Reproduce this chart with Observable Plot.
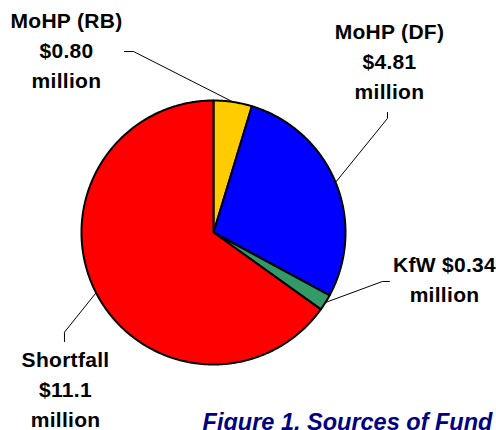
<!DOCTYPE html>
<html><head><meta charset="utf-8">
<script src="https://cdn.jsdelivr.net/npm/d3@7"></script>
<script src="https://cdn.jsdelivr.net/npm/@observablehq/plot@0.6"></script>
<style>body{margin:0;background:#fff} #chart text{letter-spacing:0.3px}</style>
</head><body><div id="chart"></div>
<script>
// Data
const categories = ["MoHP (RB)", "MoHP (DF)", "KfW", "Shortfall"];
const values = [0.80, 4.81, 0.34, 11.1];
const valueLabels = ["$0.80", "$4.81", "$0.34", "$11.1"];
const unitLabel = "million";
const captionText = "Figure 1. Sources of Fund";

// Styles / layout (in pie-radius units, origin at pie centre)
const colors = ["#FFCC00", "#0000FF", "#339966", "#FF0000"];
const labelBreak = [true, true, false, true];
const labelX = [-1.114, 1.333, 1.75, -1.121];
const labelY = [1.091, 1.015, -0.523, -1.477];
const elbowX = [-0.606, 1.318, 1.280, -1.129];
const elbowY = [1.371, 0.864, -0.371, -0.755];
const endX = [-0.674, 1.318, 1.333, -1.129];
const endY = [1.371, 0.909, -0.371, -0.826];

const arcs = d3.pie().sort(null).value(d => d)(values);

const slicePoints = arcs.map((a, i) => {
  const pts = [{x: 0, y: 0}];
  const step = Math.PI / 360;
  for (let t = a.startAngle; t < a.endAngle; t += step) pts.push({x: Math.sin(t), y: Math.cos(t)});
  pts.push({x: Math.sin(a.endAngle), y: Math.cos(a.endAngle)});
  pts.push({x: 0, y: 0});
  return pts;
});

const leaders = [];
arcs.forEach((a, i) => {
  const m = (a.startAngle + a.endAngle) / 2;
  leaders.push({k: i, x: Math.sin(m), y: Math.cos(m)});
  leaders.push({k: i, x: elbowX[i], y: elbowY[i]});
  leaders.push({k: i, x: endX[i], y: endY[i]});
});

const labels = categories.map((c, i) => ({
  x: labelX[i], y: labelY[i],
  text: c + (labelBreak[i] ? "\n" : " ") + valueLabels[i] + "\n" + unitLabel
}));

const marks = [
  ...slicePoints.map((pts, i) => Plot.line(pts, {x: "x", y: "y", fill: colors[i], stroke: "black", strokeWidth: 2, strokeLinejoin: "round"})),
  Plot.line(leaders, {x: "x", y: "y", z: "k", stroke: "black", strokeWidth: 1}),
  Plot.text(labels, {x: "x", y: "y", text: "text", fontSize: 21, fontWeight: "bold", lineAnchor: "bottom", lineHeight: 30 / 21, fill: "#000"}),
  Plot.text([captionText], {x: () => -0.083, y: () => -1.495, text: d => d, fontSize: 23.5, fontWeight: "bold", fontStyle: "italic", textAnchor: "start", lineAnchor: "bottom", fill: "#000080"})
];

const chart = Plot.plot({
  width: 496, height: 430, margin: 0,
  x: {domain: [-1, 1], range: [81, 345], axis: null},
  y: {domain: [-1, 1], range: [364, 100], axis: null},
  style: {fontFamily: "'Liberation Sans', Arial, sans-serif", background: "white"},
  marks
});
d3.select(chart).selectAll("text").filter(function () { return this.textContent === captionText; }).style("letter-spacing", "0px");
document.getElementById("chart").appendChild(chart);
</script>
</body></html>
